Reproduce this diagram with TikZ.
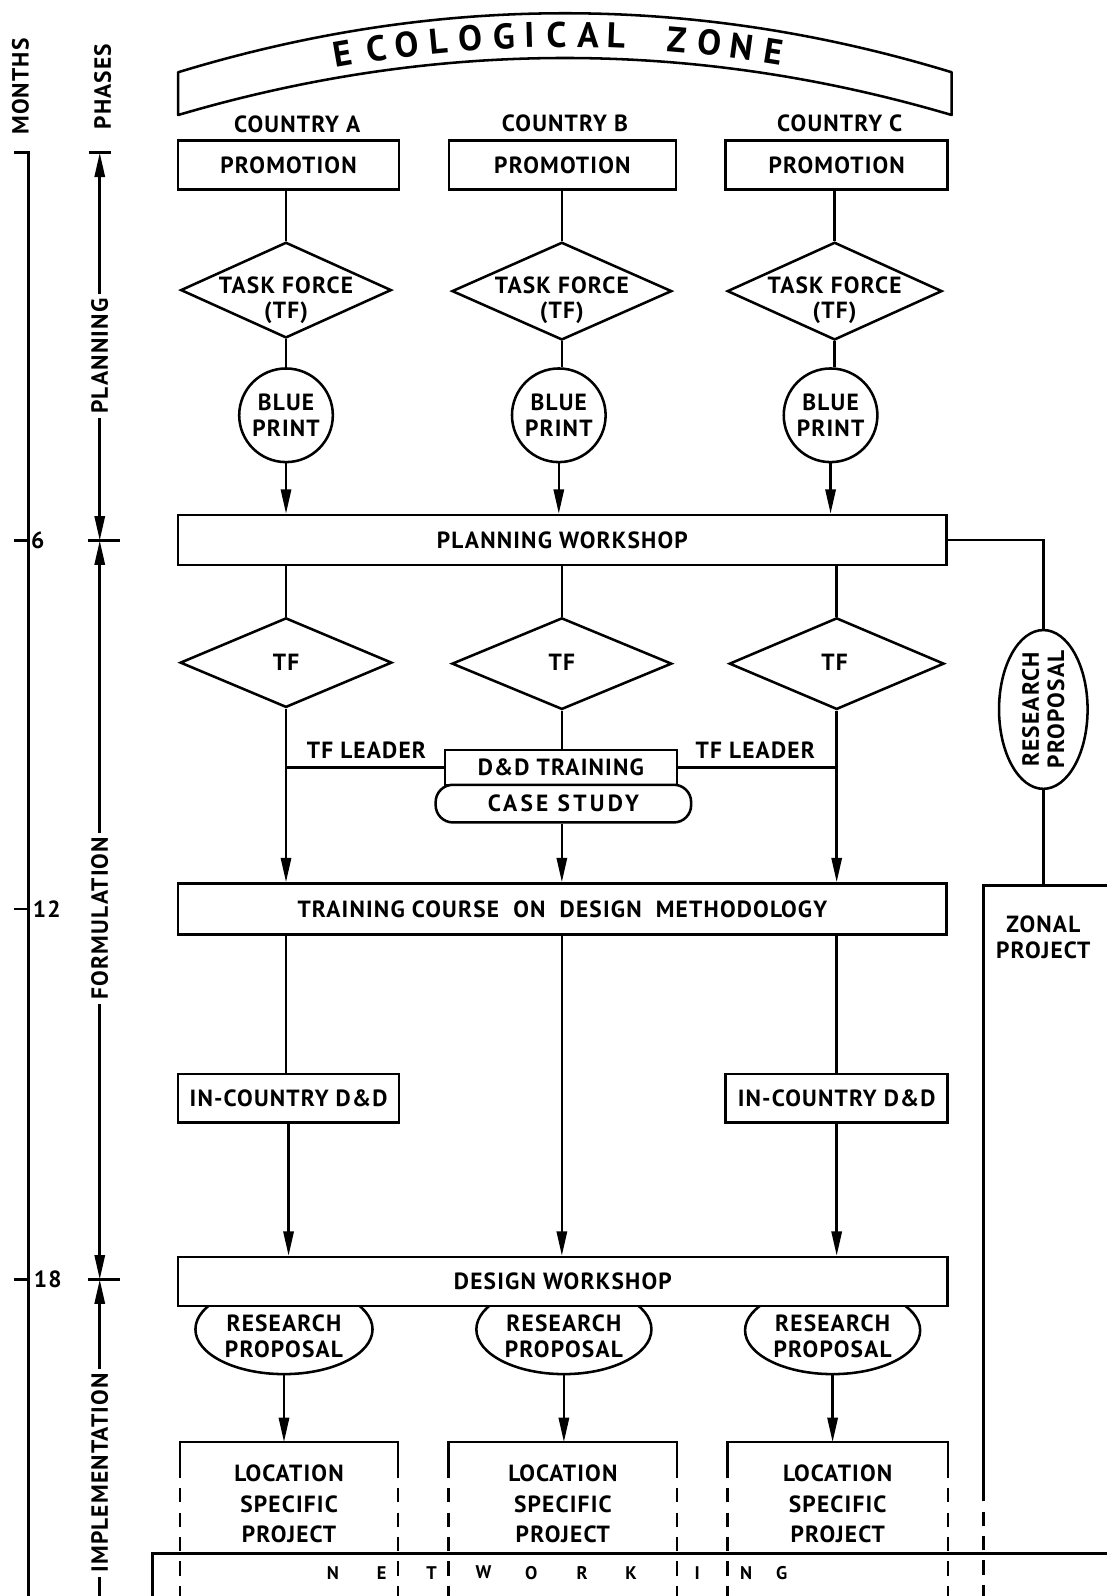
\documentclass[tikz,border=0pt]{standalone}
\usepackage{fontspec}
\setmainfont{PT Sans}[LetterSpace=5]
\usetikzlibrary{arrows.meta,shapes.geometric,calc}
\begin{document}
\begin{tikzpicture}[x=1pt,y=-1pt,
  every node/.style={font=\fontsize{23}{25}\selectfont\bfseries, inner sep=0pt, align=center},
  ln/.style={line width=2.5pt},
  boxn/.style={draw, line width=2.5pt, rectangle, minimum height=48pt},
  dia/.style={draw, line width=2.5pt, diamond},
  circ/.style={draw, line width=2.5pt, circle, minimum size=92pt},
  ell/.style={draw, line width=2.5pt, ellipse},
  arr/.style={line width=2.5pt, -{Triangle[length=24pt,width=10pt]}},
  dsh/.style={line width=2.5pt, dash pattern=on 14pt off 10pt},
  ax/.style={rotate=90, inner sep=4pt},
  eco/.style={sloped, font=\fontsize{35}{35}\selectfont\bfseries},
  netw/.style={font=\fontsize{18}{18}\selectfont\bfseries},
]
\useasboundingbox (0,0) rectangle (1088,1568);

% ---------- banner ----------
\draw[ln, line join=round] (175,71) .. controls (428.3,-6.3) and (681.7,-6.3) .. (935,71)
  -- (935,113) .. controls (681.7,38.3) and (428.3,38.3) .. (175,113) -- cycle;
\path (175,91) .. controls (428.3,15) and (681.7,15) .. (935,91)
  node[eco,pos=0.213] (e1) {E}
  node[eco,pos=0.257] (e2) {C}
  node[eco,pos=0.296] (e3) {O}
  node[eco,pos=0.336] (e4) {L}
  node[eco,pos=0.378] (e5) {O}
  node[eco,pos=0.421] (e6) {G}
  node[eco,pos=0.454] (e7) {I}
  node[eco,pos=0.489] (e8) {C}
  node[eco,pos=0.530] (e9) {A}
  node[eco,pos=0.566] (e10) {L}
  node[eco,pos=0.645] (e11) {Z}
  node[eco,pos=0.687] (e12) {O}
  node[eco,pos=0.728] (e13) {N}
  node[eco,pos=0.770] (e14) {E};

% ---------- countries ----------
\node (ctyA) at (292,122) {COUNTRY A};
\node (ctyB) at (555,121) {COUNTRY B};
\node (ctyC) at (825,121) {COUNTRY C};

\node[boxn, minimum width=217pt] (promA) at (283.5,162) {PROMOTION};
\node[boxn, minimum width=223pt] (promB) at (552.5,162) {PROMOTION};
\node[boxn, minimum width=218pt] (promC) at (822,162) {PROMOTION};

\node[dia, minimum width=207pt, minimum height=94pt] (tfA) at (281,285) {};
\node[dia, minimum width=216pt, minimum height=96pt] (tfB) at (552,286) {};
\node[dia, minimum width=211pt, minimum height=96pt] (tfC) at (820,286) {};
\node (tfAt) at (281,295) {TASK FORCE\\(TF)};
\node (tfBt) at (552,295) {TASK FORCE\\(TF)};
\node (tfCt) at (820,295) {TASK FORCE\\(TF)};

\node[circ] (bpA) at (281,408) {BLUE\\PRINT};
\node[circ] (bpB) at (549,408) {BLUE\\PRINT};
\node[circ] (bpC) at (816,408) {BLUE\\PRINT};

\draw[ln] (tfA.north |- promA.south) -- (tfA.north);
\draw[ln] (tfB.north |- promB.south) -- (tfB.north);
\draw[ln] (tfC.north |- promC.south) -- (tfC.north);
\draw[ln] (tfA.south) -- (tfA.south |- bpA.north);
\draw[ln] (tfB.south) -- (tfB.south |- bpB.north);
\draw[ln] (tfC.south) -- (tfC.south |- bpC.north);

% ---------- planning workshop ----------
\node[boxn, minimum width=755pt, minimum height=49pt] (pw) at (552.5,530.5) {PLANNING WORKSHOP};
\draw[arr] (bpA.south) -- (bpA.south |- pw.north);
\draw[arr] (bpB.south) -- (bpB.south |- pw.north);
\draw[arr] (bpC.south) -- (bpC.south |- pw.north);

\node[ell, minimum width=87pt, minimum height=156pt] (rpZ) at (1025,697) {};
\node[rotate=90] (rpZt) at (1025,697) {RESEARCH\\PROPOSAL};
\draw[ln] (pw.east) -| (rpZ.north);
\coordinate (zonTop) at (1025,870);
\draw[ln] (rpZ.south) -- (zonTop);
\draw[ln] (966,1475) |- (1088,870);
\draw[dsh] (966,1485) -- (966,1568);
\node (zonal) at (1025,921) {ZONAL\\PROJECT};

% ---------- TF row ----------
\node[dia, minimum width=208pt, minimum height=88pt] (tf2A) at (281,651) {};
\node[dia, minimum width=216pt, minimum height=90pt] (tf2B) at (552,652) {};
\node[dia, minimum width=211pt, minimum height=90pt] (tf2C) at (822,652) {};
\node (tf2At) at (281,651) {TF};
\node (tf2Bt) at (552,651) {TF};
\node (tf2Ct) at (820,651) {TF};
\draw[ln] (tf2A.north |- pw.south) -- (tf2A.north);
\draw[ln] (tf2B.north |- pw.south) -- (tf2B.north);
\draw[ln] (tf2C.north |- pw.south) -- (tf2C.north);

\node[boxn, minimum width=228pt, minimum height=34pt] (dd) at (551,754) {D\&D TRAINING};
\node[draw, ln, rounded corners=17pt, minimum width=251pt, minimum height=37pt] (cs) at (553.5,789.5) {\addfontfeature{LetterSpace=14}CASE STUDY};
\node (ldrA) at (360,737) {TF LEADER};
\node (ldrC) at (742,737) {TF LEADER};

% ---------- training course ----------
\node[boxn, minimum width=755pt, minimum height=50pt] (tc) at (552.5,893) {TRAINING COURSE \ ON \ DESIGN \ METHODOLOGY};

\draw[arr] (tf2A.south) -- (tf2A.south |- tc.north);
\draw[ln] (tf2A.south |- dd.west) -- (dd.west);
\draw[ln] (tf2B.south) -- (tf2B.south |- dd.north);
\draw[arr] (tf2B.south |- cs.south) -- (tf2B.south |- tc.north);
\draw[ln] (dd.east) -- (dd.east -| tf2C.south);
\draw[arr] (tf2C.south) -- (tf2C.south |- tc.north);

% ---------- in-country ----------
\node[boxn, minimum width=217pt] (icA) at (283.5,1079) {IN-COUNTRY D\&D};
\node[boxn, minimum width=218pt] (icC) at (822,1079) {IN-COUNTRY D\&D};
\draw[ln] (tf2A.south |- tc.south) -- (tf2A.south |- icA.north);
\draw[ln] (tf2C.south |- tc.south) -- (tf2C.south |- icC.north);

% ---------- design workshop ----------
\node[boxn, minimum width=756pt] (dw) at (553,1259) {DESIGN WORKSHOP};
\draw[arr] (tf2B.south |- tc.south) -- (tf2B.south |- dw.north);
\draw[arr] (icA.south) -- (icA.south |- dw.north);
\draw[arr] (tf2C.south |- icC.south) -- (tf2C.south |- dw.north);

\begin{scope}
  \clip (150,1283) rectangle (1000,1400);
  \node[ell, minimum width=174pt, minimum height=88pt] (rpA) at (279,1306) {};
  \node[ell, minimum width=172pt, minimum height=88pt] (rpB) at (554,1306) {};
  \node[ell, minimum width=172pt, minimum height=86pt] (rpC) at (818,1307) {};
\end{scope}
\node (rpAt) at (279,1313) {RESEARCH\\PROPOSAL};
\node (rpBt) at (554,1313) {RESEARCH\\PROPOSAL};
\node (rpCt) at (818,1313) {RESEARCH\\PROPOSAL};

% ---------- location specific projects ----------
\node[minimum width=214pt, minimum height=121pt, font=\fontsize{23}{30}\selectfont\bfseries] (locA) at (284,1477.5) {LOCATION\\SPECIFIC\\PROJECT};
\node[minimum width=224pt, minimum height=121pt, font=\fontsize{23}{30}\selectfont\bfseries] (locB) at (553,1477.5) {LOCATION\\SPECIFIC\\PROJECT};
\node[minimum width=216pt, minimum height=121pt, font=\fontsize{23}{30}\selectfont\bfseries] (locC) at (823,1477.5) {LOCATION\\SPECIFIC\\PROJECT};
\draw[arr] (rpA.south) -- (rpA.south |- locA.north);
\draw[arr] (rpB.south) -- (rpB.south |- locB.north);
\draw[arr] (rpC.south) -- (rpC.south |- locC.north);
\foreach \L in {locA,locB,locC}{
  \draw[ln] (\L.west |- 0,1452) |- (\L.north) -| (\L.east |- 0,1452);
  \draw[dsh] (\L.west |- 0,1462) -- (\L.west |- 0,1568);
  \draw[dsh] (\L.east |- 0,1462) -- (\L.east |- 0,1568);
}

% ---------- networking ----------
\draw[ln] (150,1568) -- (150,1526) -- (1088,1526);
\node[netw] (n1) at (327,1545) {N};
\node[netw] (n2) at (375,1545) {E};
\node[netw] (n3) at (424,1545) {T};
\node[netw] (n4) at (475,1545) {W};
\node[netw] (n5) at (522,1545) {O};
\node[netw] (n6) at (572,1545) {R};
\node[netw] (n7) at (620,1545) {K};
\node[netw] (n8) at (685,1545) {I};
\node[netw] (n9) at (733,1545) {N};
\node[netw] (n10) at (768,1545) {G};

% ---------- months axis ----------
\node[rotate=90] (months) at (20,85) {MONTHS};
\draw[ln] (14,150) -- (28,150) -- (28,1568);
\draw[ln] (14,531) -- (28,531);
\draw[ln] (14,893) -- (28,893);
\draw[ln] (14,1257) -- (28,1257);
\node (m6) at (37,531) {6};
\node (m12) at (46,893) {12};
\node (m18) at (47,1257) {18};

% ---------- phases axis ----------
\coordinate (ph0) at (98,150);
\coordinate (ph6) at (98,531);
\coordinate (ph18) at (98,1257);
\coordinate (phEnd) at (98,1568);
\node[rotate=90] (phases) at (101,85) {PHASES};
\draw[ln] (87,150) -- (109,150);
\node[ax] (planning) at (98,350) {PLANNING};
\node[ax] (formulation) at (98,902) {FORMULATION};
\node[ax] (impl) at (98,1447) {IMPLEMENTATION};
\draw[arr] (planning.east) -- (ph0);
\draw[arr] (planning.west) -- (ph6);
\draw[ln] (86,531) -- (118,531);
\draw[arr] (formulation.east) -- (ph6);
\draw[arr] (formulation.west) -- (ph18);
\draw[ln] (86,1257) -- (118,1257);
\draw[arr] (impl.east) -- (ph18);
\draw[ln] (impl.west) -- (phEnd);
\end{tikzpicture}
\end{document}
